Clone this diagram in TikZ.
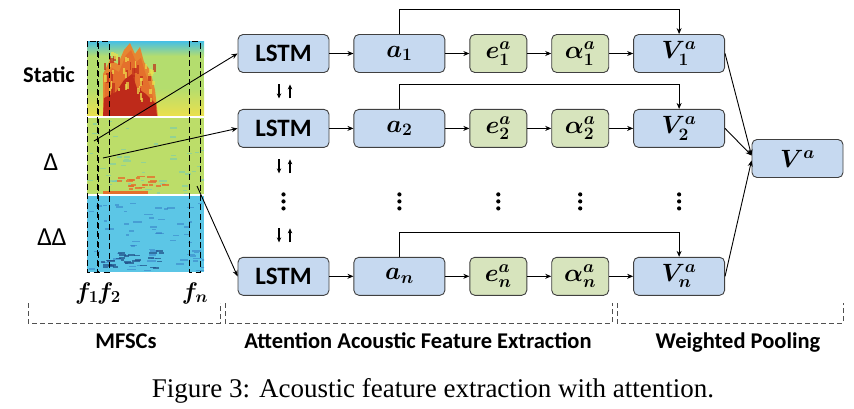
\documentclass[tikz,border=0pt]{standalone}
\usepackage{fix-cm}
\usepackage{amsmath,bm}
\usepackage{fontspec}
\setmainfont{Liberation Serif}
\newfontfamily\labelfont{Carlito}
\usetikzlibrary{positioning,arrows.meta,calc}
\definecolor{boxblue}{HTML}{C6D9F0}
\definecolor{boxgreen}{HTML}{D7E4BD}
\definecolor{boxedge}{HTML}{404040}
\definecolor{bracketgray}{HTML}{505050}
\definecolor{speccyan}{HTML}{45BFE6}
\definecolor{specgreen}{HTML}{B4DD6E}
\definecolor{specyellow}{HTML}{EDE04C}
\definecolor{specorange}{HTML}{E4702C}
\definecolor{specred}{HTML}{BE2A1A}
\definecolor{ddcyan}{HTML}{5CC6E6}
\definecolor{ddblue}{HTML}{2E6EC0}
\tikzset{
  bluebox/.style={
    rectangle, rounded corners=5pt, draw=boxedge, fill=boxblue,
    minimum width=91pt, minimum height=38pt, inner sep=0pt, line width=0.9pt,
    font=\labelfont\bfseries\fontsize{25}{29}\selectfont
  },
  greenbox/.style={
    bluebox, fill=boxgreen, minimum width=57pt
  },
  arr/.style={
    -{Stealth[length=6pt,width=5pt]}, line width=0.9pt
  },
  udarr/.style={
    -{Stealth[length=5pt,width=4.5pt]}, line width=1.1pt
  },
  framebox/.style={
    draw, line width=1pt, dash pattern=on 6pt off 3.5pt
  },
  bracket/.style={
    draw=bracketgray, line width=0.9pt, dash pattern=on 5pt off 3pt
  },
  seclabel/.style={
    anchor=base, inner sep=0pt, font=\labelfont\bfseries\fontsize{22.5}{27}\selectfont
  },
  rowlabel/.style={
    anchor=base, inner sep=0pt, font=\labelfont\fontsize{26}{30}\selectfont
  },
  flabel/.style={
    anchor=base, inner sep=0pt, font=\fontsize{24}{28}\selectfont
  }
}
\begin{document}
\begin{tikzpicture}[x=1pt,y=-1pt]
\useasboundingbox (0,0) rectangle (854,408);

% spectrogram
\begin{scope}
\clip (87,41) rectangle (204,272);
\fill[specgreen] (87,41) rectangle (204,117);
\shade[top color=speccyan, bottom color=specgreen] (87,41) rectangle (204,56);
\shade[top color=specgreen, bottom color=specyellow] (87,88) rectangle (204,117);
\fill[specorange!80!specyellow] (103,117) -- (103,74) -- (110,60) -- (118,64) -- (124,50) -- (130,43)
  -- (135,54) -- (140,47) -- (144,62) -- (150,70) -- (155,90) -- (158,117) -- cycle;
\fill[specorange] (104,117) -- (105,80) -- (112,68) -- (119,72) -- (126,55) -- (131,50)
  -- (136,62) -- (141,58) -- (145,72) -- (152,92) -- (156,117) -- cycle;
\fill[specred] (103,117) -- (104,98) -- (116,92) -- (124,80) -- (132,74) -- (137,88)
  -- (146,94) -- (156,104) -- (157,117) -- cycle;
\pgfmathsetseed{7}
\foreach \i in {1,...,40}
  \fill[specred, opacity=0.7] (104+50*rnd, 55+60*rnd) rectangle ++(1.5+2*rnd, 4+6*rnd);
\foreach \i in {1,...,30}
  \fill[specyellow, opacity=0.7] (104+50*rnd, 50+50*rnd) rectangle ++(1.5+2*rnd, 3+5*rnd);
\fill[specgreen!85!specyellow] (87,117) rectangle (204,195);
\foreach \i in {1,...,45}
  \fill[speccyan, opacity=0.35] (87+115*rnd, 118+75*rnd) rectangle ++(3+5*rnd, 1.5);
\foreach \i in {1,...,25}
  \fill[specorange, opacity=0.8] (108+55*rnd, 175+15*rnd) rectangle ++(3+5*rnd, 1.8);
\fill[specorange] (103,191) rectangle (148,194);
\fill[ddcyan] (87,195) rectangle (204,272);
\foreach \i in {1,...,60}
  \fill[ddblue, opacity=0.45] (87+115*rnd, 197+73*rnd) rectangle ++(3+6*rnd, 1.5);
\foreach \i in {1,...,30}
  \fill[ddblue!70!black, opacity=0.7] (100+60*rnd, 248+20*rnd) rectangle ++(3+6*rnd, 1.8);
\draw[white, line width=1.2pt] (87,117) -- (204,117) (87,195) -- (204,195);
\end{scope}
\draw[framebox] (87,41) rectangle (98,272);
\draw[framebox] (97,41) rectangle (109,272);
\draw[framebox] (189,41) rectangle (200,272);

\node[seclabel] (static) at (49,82) {Static};
\node[rowlabel] (delta) at (51,170) {Δ};
\node[rowlabel] (ddelta) at (52,245) {ΔΔ};
\node[flabel] (f1) at (87,299) {$\bm{f_1}$};
\node[flabel] (f2) at (109,299) {$\bm{f_2}$};
\node[flabel] (fn) at (195,299) {$\bm{f_n}$};

% row 1
\node[bluebox] (lstm1) at (283.5,53.5) {LSTM};
\node[bluebox, right=24pt of lstm1] (a1) {$\bm{a_1}$};
\node[greenbox, right=24pt of a1] (e1) {$\bm{e_1^a}$};
\node[greenbox, right=24pt of e1] (al1) {$\bm{\alpha_1^a}$};
\node[bluebox, right=24pt of al1] (V1) {$\bm{V_1^a}$};
% row 2
\node[bluebox, below=36pt of lstm1] (lstm2) {LSTM};
\node[bluebox, right=24pt of lstm2] (a2) {$\bm{a_2}$};
\node[greenbox, right=24pt of a2] (e2) {$\bm{e_2^a}$};
\node[greenbox, right=24pt of e2] (al2) {$\bm{\alpha_2^a}$};
\node[bluebox, right=24pt of al2] (V2) {$\bm{V_2^a}$};
% row n
\node[bluebox, below=109pt of lstm2] (lstmn) {LSTM};
\node[bluebox, right=24pt of lstmn] (an) {$\bm{a_n}$};
\node[greenbox, right=24pt of an] (en) {$\bm{e_n^a}$};
\node[greenbox, right=24pt of en] (aln) {$\bm{\alpha_n^a}$};
\node[bluebox, right=24pt of aln] (Vn) {$\bm{V_n^a}$};

\node[bluebox] (Va) at (797.5,158.5) {$\bm{V^a}$};

% vertical dots
\foreach \c in {lstm2,a2,e2,al2,V2}{
  \coordinate (dots-\c) at ($(\c)+(0,73)$);
  \foreach \k in {-7,0,7}
    \fill ([yshift=\k pt]dots-\c) circle (2.1pt);
}

% inputs from the spectrogram
\coordinate (s1) at (94,141);
\coordinate (s2) at (103,158);
\coordinate (s3) at (197,186);
\draw[arr] (s1) -- (lstm1.west);
\draw[arr] (s2) -- (lstm2.west);
\draw[arr] (s3) -- (lstmn.west);

% bidirectional links
\foreach \n in {lstm1,lstm2}{
  \draw[udarr] ([xshift=-4.5pt,yshift=-11.5pt]\n.south) -- ++(0,14);
  \draw[udarr] ([xshift=6.5pt,yshift=-25.5pt]\n.south) -- ++(0,-14);
}
\draw[udarr] ([xshift=-4.5pt,yshift=28.5pt]lstmn.north) -- ++(0,14);
\draw[udarr] ([xshift=6.5pt,yshift=14.5pt]lstmn.north) -- ++(0,-14);

% chains
\foreach \r in {1,2,n}{
  \draw[arr] (lstm\r) -- (a\r);
  \draw[arr] (a\r) -- (e\r);
  \draw[arr] (e\r) -- (al\r);
  \draw[arr] (al\r) -- (V\r);
  \draw[arr] (a\r.north) -- ++(0,-24.5) -| (V\r.north);
}

\draw[arr] (V1.east) -- ([yshift=3pt]Va.west);
\draw[arr] (V2.east) -- ([yshift=3pt]Va.west);
\draw[arr] (Vn.east) -- ([yshift=-2pt]Va.west);

% sections
\draw[bracket] (28,303) -- (28,323) -- (220,323) -- (220,303);
\draw[bracket] (225,303) -- (225,323) -- (612,323) -- (612,303);
\draw[bracket] (617,303) -- (617,323) -- (843,323) -- (843,303);
\node[seclabel] (mfsc) at (126,348) {MFSCs};
\node[seclabel] (aafe) at (418,348) {Attention Acoustic Feature Extraction};
\node[seclabel] (wpool) at (738,348) {Weighted Pooling};

\node[anchor=base, inner sep=0pt, font=\fontsize{27}{32}\selectfont] (caption) at (433,397)
  {Figure 3: Acoustic feature extraction with attention.};
\end{tikzpicture}
\end{document}
